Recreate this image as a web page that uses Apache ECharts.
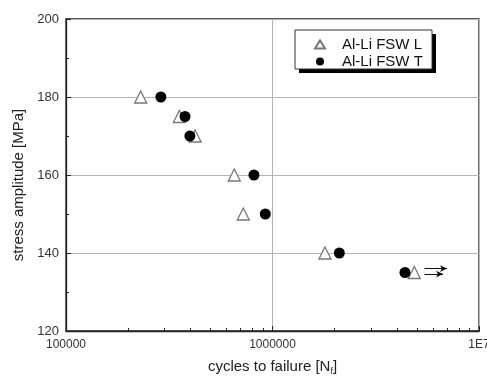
<!DOCTYPE html>
<html>
<head>
<meta charset="utf-8">
<script src="https://cdn.jsdelivr.net/npm/echarts@6/dist/echarts.min.js"></script>
<style>
  html, body { margin: 0; padding: 0; background: #fff; }
  #chart { width: 487px; height: 379px; }
</style>
</head>
<body>
<div id="chart"></div>
<script>
// cycles to failure and stress amplitude
const seriesNames = ['Al-Li FSW L', 'Al-Li FSW T'];
const cyclesL = [230000, 354000, 422000, 653000, 722000, 1795000, 4860000];
const stressL = [180, 175, 170, 160, 150, 140, 135];
const cyclesT = [288000, 377000, 398000, 813000, 923000, 2107000, 4380000];
const stressT = [180, 175, 170, 160, 150, 140, 135];
// run-out arrows: [from cycles, to cycles, stress]
const runouts = [[5450000, 7000000, 136.0], [5450000, 6700000, 134.6]];
const xTicks = [100000, 1000000, 10000000];
const yTicks = [120, 140, 160, 180, 200];

const lg = v => Math.log10(v);

// minor log ticks 2..9 x 10^n
const minorTicks = [];
for (let e = 5; e < 7; e++) {
    for (let k = 2; k <= 9; k++) minorTicks.push(lg(k * Math.pow(10, e)));
}

const chart = echarts.init(document.getElementById('chart'));

const option = {
    backgroundColor: '#fff',
    animation: false,
    textStyle: { fontFamily: 'Liberation Sans, Arial, sans-serif' },
    grid: {
        left: 66, top: 19, right: 8, bottom: 48,
        outerBoundsMode: 'none',
        containLabel: false,
        show: true, borderColor: '#222', borderWidth: 1.3
    },
    legend: {
        data: [
            { name: seriesNames[0], icon: 'triangle' },
            { name: seriesNames[1], icon: 'circle' }
        ],
        orient: 'vertical',
        left: 314, top: 37, padding: 0,
        itemWidth: 10, itemHeight: 8, itemGap: 2,
        textStyle: { fontSize: 15, lineHeight: 13, color: '#111', padding: [0, 0, 0, 12] },
        z: 10
    },
    graphic: [
        { type: 'rect', shape: { x: 299, y: 34, width: 137, height: 39 }, style: { fill: '#000' }, z: 5 },
        { type: 'rect', shape: { x: 295, y: 30, width: 137, height: 39 }, style: { fill: '#fff', stroke: '#333', lineWidth: 1 }, z: 6 }
    ],
    xAxis: [
        {
            type: 'value', min: lg(xTicks[0]), max: lg(xTicks[2]), interval: 1,
            name: '{a|cycles to failure [N}{s|f}{a|]}',
            nameLocation: 'middle', nameGap: 27,
            nameTextStyle: {
                rich: {
                    a: { fontSize: 15, color: '#222' },
                    s: { fontSize: 9, color: '#222', padding: [9, 0, 0, 0] }
                }
            },
            axisLine: { lineStyle: { color: '#222', width: 1.3 } },
            axisTick: { inside: true, length: 5, lineStyle: { color: '#222' } },
            axisLabel: {
                fontSize: 12, color: '#333', margin: 8,
                formatter: v => v >= 7 ? '1E7' : String(Math.round(Math.pow(10, v)))
            },
            splitLine: { show: true, lineStyle: { color: '#b4b4b4', width: 1 } }
        },
        {
            type: 'value', min: 5, max: 7, position: 'bottom',
            axisLine: { show: false },
            axisLabel: { show: false },
            axisTick: { show: true, inside: true, length: 3, customValues: minorTicks, lineStyle: { color: '#222' } },
            splitLine: { show: false }
        }
    ],
    yAxis: {
        type: 'value', min: yTicks[0], max: yTicks[yTicks.length - 1], interval: 20,
        name: 'stress amplitude [MPa]',
        nameLocation: 'middle', nameGap: 31,
        nameTextStyle: { fontSize: 15, color: '#222', padding: [0, 20, 0, 0] },
        axisLine: { show: true, lineStyle: { color: '#222', width: 1.3 } },
        axisTick: { show: true, inside: true, length: 5, lineStyle: { color: '#222' } },
        minorTick: { show: true, splitNumber: 2, length: 3, lineStyle: { color: '#222' } },
        axisLabel: { fontSize: 13, color: '#333', margin: 7 },
        splitLine: { show: true, lineStyle: { color: '#b4b4b4', width: 1 } }
    },
    series: [
        {
            name: seriesNames[0],
            type: 'scatter',
            symbol: 'triangle',
            symbolSize: 12,
            itemStyle: { color: '#fff', borderColor: '#777', borderWidth: 1.3, opacity: 1 },
            data: cyclesL.map((c, i) => [lg(c), stressL[i]]),
            z: 3
        },
        {
            name: seriesNames[1],
            type: 'scatter',
            symbol: 'circle',
            symbolSize: 11,
            itemStyle: { color: '#000', opacity: 1 },
            data: cyclesT.map((c, i) => [lg(c), stressT[i]]),
            z: 4,
            markLine: {
                silent: true,
                symbol: ['none', 'arrow'],
                symbolSize: [5, 7],
                label: { show: false },
                lineStyle: { color: '#111', width: 1, type: 'solid' },
                data: runouts.map(r => [
                    { coord: [lg(r[0]), r[2]] },
                    { coord: [lg(r[1]), r[2]] }
                ])
            }
        }
    ]
};

chart.setOption(option);
</script>
</body>
</html>
